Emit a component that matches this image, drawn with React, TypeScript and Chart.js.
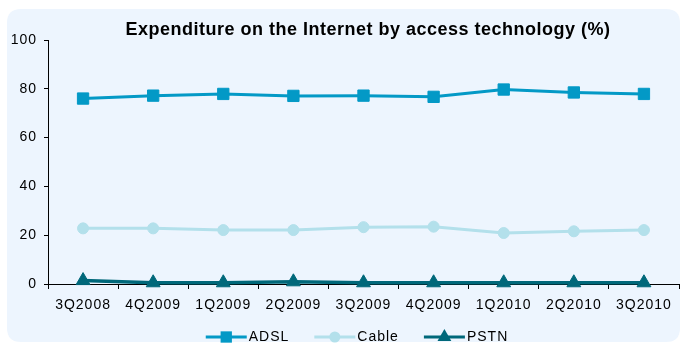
import React, { useEffect, useRef } from 'react';
import { Chart, registerables } from 'chart.js';

Chart.register(...registerables);

const categories = ['3Q2008', '4Q2009', '1Q2009', '2Q2009', '3Q2009', '4Q2009', '1Q2010', '2Q2010', '3Q2010'];
const adsl = [76.0, 77.2, 77.9, 77.1, 77.2, 76.7, 79.7, 78.5, 77.9];
const cable = [22.8, 22.8, 22.1, 22.1, 23.3, 23.5, 20.9, 21.6, 22.1];
const pstn = [1.4, 0.5, 0.5, 0.9, 0.5, 0.5, 0.5, 0.5, 0.5];
const seriesNames = ['ADSL', 'Cable', 'PSTN'];
const seriesColors = ['#0399C6', '#B3E0EB', '#00687A'];
const seriesStyles = ['rect', 'circle', 'triangle'];
const yMin = 0;
const yMax = 100;
const yStep = 20;
const titleText = 'Expenditure on the Internet by access technology (%)';

const FONT = "'Liberation Sans', Arial, sans-serif";

function drawMarker(ctx: CanvasRenderingContext2D, style: string, x: number, y: number, r: number) {
  ctx.beginPath();
  if (style === 'rect') {
    const s = r * Math.SQRT1_2;
    ctx.rect(x - s, y - s, 2 * s, 2 * s);
  } else if (style === 'circle') {
    ctx.arc(x, y, r, 0, Math.PI * 2);
  } else {
    ctx.moveTo(x, y - r);
    ctx.lineTo(x + Math.cos(Math.PI / 6) * r, y + r / 2);
    ctx.lineTo(x - Math.cos(Math.PI / 6) * r, y + r / 2);
    ctx.closePath();
  }
  ctx.fill();
}

const decorPlugin = {
  id: 'decor',
  beforeDraw(chart: any) {
    const ctx = chart.ctx as any;
    ctx.save();
    ctx.fillStyle = '#ffffff';
    ctx.fillRect(0, 0, chart.width, chart.height);
    ctx.fillStyle = '#EDF5FE';
    const x0 = 7, y0 = 9, x1 = 680, y1 = 342, r = 14;
    ctx.beginPath();
    ctx.moveTo(x0 + r, y0);
    ctx.lineTo(x1 - r, y0);
    ctx.quadraticCurveTo(x1, y0, x1, y0 + r);
    ctx.lineTo(x1, y1 - r);
    ctx.quadraticCurveTo(x1, y1, x1 - r, y1);
    ctx.lineTo(x0 + r, y1);
    ctx.quadraticCurveTo(x0, y1, x0, y1 - r);
    ctx.lineTo(x0, y0 + r);
    ctx.quadraticCurveTo(x0, y0, x0 + r, y0);
    ctx.closePath();
    ctx.fill();
    ctx.restore();
    ctx.letterSpacing = '1px';
  },
  afterDraw(chart: any) {
    const ctx = chart.ctx as any;
    ctx.save();
    // title
    ctx.fillStyle = '#000';
    ctx.letterSpacing = '0.5px';
    ctx.font = `bold 18px ${FONT}`;
    ctx.textAlign = 'center';
    ctx.textBaseline = 'middle';
    ctx.fillText(titleText, 368, 30);
    // legend
    ctx.letterSpacing = '1px';
    ctx.font = `14px ${FONT}`;
    ctx.textAlign = 'left';
    const lineLen = 41;
    const gapText = 2;
    const gapItem = 25;
    const widths = seriesNames.map((n) => ctx.measureText(n).width);
    const total = widths.reduce((s: number, w: number) => s + lineLen + gapText + w, 0) + gapItem * (seriesNames.length - 1);
    let x = 357 - total / 2;
    const y = 337;
    seriesNames.forEach((name, i) => {
      ctx.strokeStyle = seriesColors[i];
      ctx.fillStyle = seriesColors[i];
      ctx.lineWidth = 3;
      ctx.beginPath();
      ctx.moveTo(x, y);
      ctx.lineTo(x + lineLen, y);
      ctx.stroke();
      drawMarker(ctx, seriesStyles[i], x + lineLen / 2, y, i === 1 ? 5.5 : 8);
      ctx.fillStyle = '#000';
      ctx.fillText(name, x + lineLen + gapText, y);
      x += lineLen + gapText + widths[i] + gapItem;
    });
    ctx.restore();
    ctx.letterSpacing = '0px';
  },
};

export default function App() {
  const ref = useRef<HTMLCanvasElement | null>(null);
  useEffect(() => {
    if (!ref.current) return;
    const values = [adsl, cable, pstn];
    const chart = new Chart(ref.current, {
      type: 'line',
      data: {
        labels: categories,
        datasets: values.map((v, i) => ({
          label: seriesNames[i],
          data: v,
          borderColor: seriesColors[i],
          backgroundColor: seriesColors[i],
          pointBackgroundColor: seriesColors[i],
          pointBorderColor: seriesColors[i],
          pointStyle: seriesStyles[i] as any,
          pointRadius: i === 1 ? 5.5 : 8,
          pointBorderWidth: 1,
          borderWidth: i === 2 ? 3.5 : 3,
          tension: 0,
          fill: false,
          clip: false as any,
        })),
      },
      options: {
        responsive: false,
        animation: false,
        devicePixelRatio: 1,
        layout: { autoPadding: false, padding: { left: 8, right: 2, top: 40, bottom: 31 } },
        plugins: {
          legend: { display: false },
          title: { display: false },
          tooltip: { enabled: false },
        },
        scales: {
          x: {
            offset: true,
            afterFit: (s: any) => { s.height = 30; s.paddingLeft = 0; s.paddingRight = 0; },
            grid: { offset: true, drawOnChartArea: false, drawTicks: true, tickLength: 5, color: '#000' },
            border: { display: true, color: '#000', width: 1 },
            ticks: { color: '#000', font: { family: FONT, size: 14 }, padding: 8, maxRotation: 0, autoSkip: false },
          },
          y: {
            min: yMin,
            max: yMax,
            afterFit: (s: any) => { s.width = 40; s.paddingTop = 0; s.paddingBottom = 0; },
            grid: { drawOnChartArea: false, drawTicks: true, tickLength: 4, color: '#000' },
            border: { display: true, color: '#000', width: 1 },
            ticks: { stepSize: yStep, color: '#000', font: { family: FONT, size: 14 }, padding: 7 },
          },
        },
      },
      plugins: [decorPlugin],
    });
    return () => chart.destroy();
  }, []);
  return (
    <div style={{ position: 'absolute', left: 0, top: 0, width: 681, height: 345 }}>
      <canvas ref={ref} width={681} height={345} />
    </div>
  );
}
